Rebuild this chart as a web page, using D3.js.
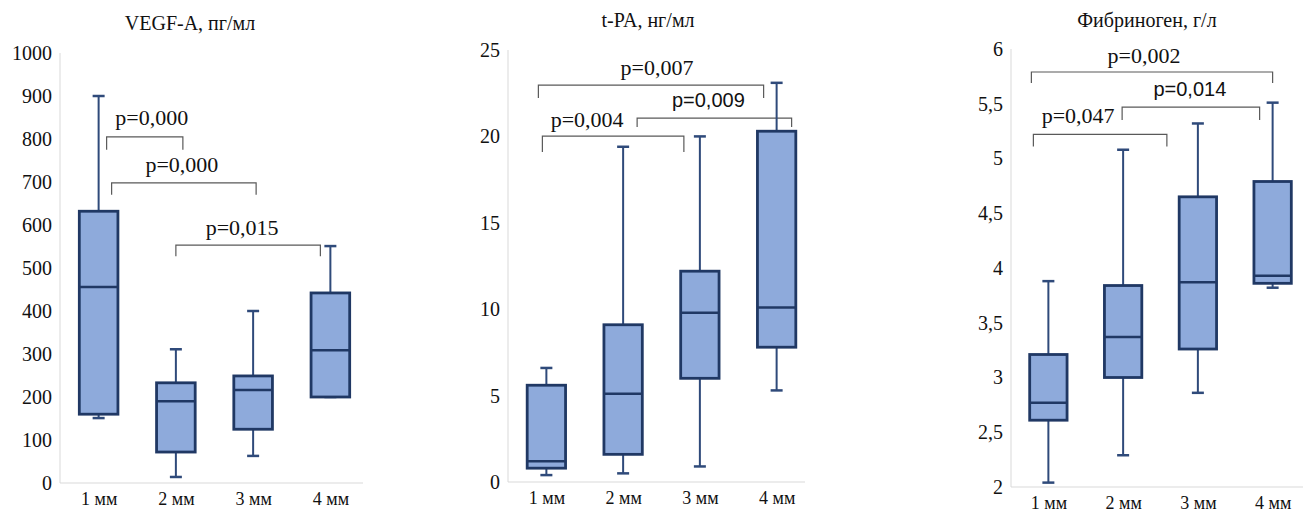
<!DOCTYPE html>
<html>
<head>
<meta charset="utf-8">
<script src="https://cdn.jsdelivr.net/npm/d3@7"></script>
<style>
  body { margin: 0; background: #fff; }
  svg { display: block; }
</style>
</head>
<body>
<div id="chart"></div>
<script>
// groups on the x axis
const categories = ['1 мм', '2 мм', '3 мм', '4 мм'];

// VEGF-A, pg/ml
const vegfMin = [151, 14, 63, 200];
const vegfQ1 = [160, 72, 125, 200];
const vegfMedian = [456, 190, 216, 309];
const vegfQ3 = [632, 233, 249, 442];
const vegfMax = [900, 311, 400, 551];
const vegfTicks = [0, 100, 200, 300, 400, 500, 600, 700, 800, 900, 1000];
const vegfPairs = [[0, 1], [0, 2], [1, 3]];
const vegfP = ['p=0,000', 'p=0,000', 'p=0,015'];

// t-PA, ng/ml
const tpaMin = [0.4, 0.5, 0.9, 5.3];
const tpaQ1 = [0.8, 1.6, 6.0, 7.8];
const tpaMedian = [1.2, 5.1, 9.8, 10.1];
const tpaQ3 = [5.6, 9.1, 12.2, 20.3];
const tpaMax = [6.6, 19.4, 20.0, 23.1];
const tpaTicks = [0, 5, 10, 15, 20, 25];
const tpaPairs = [[0, 2], [1, 3], [0, 3]];
const tpaP = ['p=0,004', 'p=0,009', 'p=0,007'];

// fibrinogen, g/l
const fibMin = [2.04, 2.29, 2.86, 3.82];
const fibQ1 = [2.61, 3.0, 3.26, 3.86];
const fibMedian = [2.77, 3.37, 3.87, 3.93];
const fibQ3 = [3.21, 3.84, 4.65, 4.79];
const fibMax = [3.88, 5.08, 5.32, 5.51];
const fibTicks = [2, 2.5, 3, 3.5, 4, 4.5, 5, 5.5, 6];
const fibPairs = [[0, 2], [1, 3], [0, 3]];
const fibP = ['p=0,047', 'p=0,014', 'p=0,002'];

const SERIF = '"Liberation Serif", "Times New Roman", serif';
const SANS = '"Liberation Sans", Arial, sans-serif';

class BoxPlot {
    constructor(_config, _data) {
        this.config = _config;
        this.data = _data;
        this.initVis();
    }

    initVis() {
        let vis = this;
        let c = vis.config;

        vis.chart = c.svg.append('g');

        vis.xScale = d3.scalePoint()
            .domain(categories)
            .range(c.xRange)
            .padding(0.5);

        vis.yScale = d3.scaleLinear()
            .domain(c.yDomain)
            .range(c.yRange);

        vis.boxWidth = vis.xScale.step() * 0.5;

        // light grey axis lines
        vis.chart.append('line')
            .attr('x1', c.xRange[0]).attr('x2', c.xRange[0])
            .attr('y1', c.yRange[1]).attr('y2', c.yRange[0])
            .attr('stroke', '#d9d9d9');
        vis.chart.append('line')
            .attr('x1', c.xRange[0]).attr('x2', c.axisEnd)
            .attr('y1', c.yRange[0]).attr('y2', c.yRange[0])
            .attr('stroke', '#d9d9d9');

        vis.yAxis = d3.axisLeft(vis.yScale)
            .tickValues(c.ticks)
            .tickSize(0)
            .tickPadding(8)
            .tickFormat(d => String(d).replace('.', ','));

        vis.xAxis = d3.axisBottom(vis.xScale)
            .tickSize(0)
            .tickPadding(9);

        vis.yAxisG = vis.chart.append('g')
            .attr('transform', `translate(${c.xRange[0]},0)`)
            .call(vis.yAxis);

        vis.xAxisG = vis.chart.append('g')
            .attr('transform', `translate(0,${c.yRange[0]})`)
            .call(vis.xAxis);

        vis.yAxisG.select('.domain').remove();
        vis.xAxisG.select('.domain').remove();
        vis.yAxisG.selectAll('text')
            .attr('font-family', SERIF).attr('font-size', 20).attr('fill', '#111');
        vis.xAxisG.selectAll('text')
            .attr('font-family', SERIF).attr('font-size', 18).attr('fill', '#111');

        vis.chart.append('text')
            .attr('x', c.titleX)
            .attr('y', c.titleY)
            .attr('text-anchor', 'middle')
            .attr('font-family', SERIF)
            .attr('font-size', 20)
            .attr('fill', '#111')
            .text(c.title);

        vis.renderVis();
    }

    renderVis() {
        let vis = this;
        let c = vis.config;
        const x = vis.xScale, y = vis.yScale, w = vis.boxWidth;
        const cap = 12;

        // significance brackets
        const brackets = vis.chart.selectAll('.bracket')
            .data(vis.data.pairs.map((p, i) => ({pair: p, label: vis.data.pValues[i], lay: c.brackets[i]})))
            .enter().append('g')
            .attr('class', 'bracket');

        brackets.append('path')
            .attr('fill', 'none')
            .attr('stroke', '#595959')
            .attr('stroke-width', 1.2)
            .attr('d', d => {
                const x1 = x(categories[d.pair[0]]) + d.lay.dx[0];
                const x2 = x(categories[d.pair[1]]) + d.lay.dx[1];
                const y0 = y(d.lay.level);
                return `M${x1},${y0 + d.lay.tick}V${y0}H${x2}V${y0 + d.lay.tick}`;
            });

        brackets.append('text')
            .attr('x', d => (x(categories[d.pair[0]]) + d.lay.dx[0] + x(categories[d.pair[1]]) + d.lay.dx[1]) / 2 + d.lay.textDx)
            .attr('y', d => y(d.lay.level) - d.lay.gap)
            .attr('text-anchor', 'middle')
            .attr('font-family', d => d.lay.sans ? SANS : SERIF)
            .attr('font-size', d => d.lay.sans ? 20 : 22)
            .attr('fill', '#111')
            .text(d => d.label);

        const rows = categories.map((cat, i) => ({
            cat: cat,
            min: vis.data.min[i], q1: vis.data.q1[i], med: vis.data.median[i],
            q3: vis.data.q3[i], max: vis.data.max[i]
        }));

        const boxes = vis.chart.selectAll('.box')
            .data(rows)
            .enter().append('g')
            .attr('class', 'box');

        // whiskers
        boxes.append('line')
            .attr('x1', d => x(d.cat)).attr('x2', d => x(d.cat))
            .attr('y1', d => y(d.max)).attr('y2', d => y(d.min))
            .attr('stroke', '#2f4a7a').attr('stroke-width', 2);
        boxes.append('line')
            .attr('x1', d => x(d.cat) - cap / 2).attr('x2', d => x(d.cat) + cap / 2)
            .attr('y1', d => y(d.max)).attr('y2', d => y(d.max))
            .attr('stroke', '#2f4a7a').attr('stroke-width', 2.5);
        boxes.append('line')
            .attr('x1', d => x(d.cat) - cap / 2).attr('x2', d => x(d.cat) + cap / 2)
            .attr('y1', d => y(d.min)).attr('y2', d => y(d.min))
            .attr('stroke', '#2f4a7a').attr('stroke-width', 2.5);

        boxes.append('rect')
            .attr('x', d => x(d.cat) - w / 2)
            .attr('width', w)
            .attr('y', d => y(d.q3))
            .attr('height', d => y(d.q1) - y(d.q3))
            .attr('fill', '#8eaadb')
            .attr('stroke', '#203864')
            .attr('stroke-width', 2.8);

        boxes.append('line')
            .attr('x1', d => x(d.cat) - w / 2).attr('x2', d => x(d.cat) + w / 2)
            .attr('y1', d => y(d.med)).attr('y2', d => y(d.med))
            .attr('stroke', '#203864').attr('stroke-width', 2.5);
    }
}

const svg = d3.select('#chart').append('svg')
    .attr('width', 1303)
    .attr('height', 513);

new BoxPlot({
    svg: svg, title: 'VEGF-A, пг/мл', titleX: 190, titleY: 30,
    xRange: [60, 369], axisEnd: 363, yRange: [483, 53], yDomain: [0, 1000], ticks: vegfTicks,
    brackets: [
        {level: 805, tick: 13, dx: [8, 7], textDx: 7, gap: 12},
        {level: 698, tick: 12, dx: [13, 3], textDx: -2, gap: 11},
        {level: 553, tick: 11, dx: [0, -10], textDx: -6, gap: 10}
    ]
}, {min: vegfMin, q1: vegfQ1, median: vegfMedian, q3: vegfQ3, max: vegfMax, pairs: vegfPairs, pValues: vegfP});

new BoxPlot({
    svg: svg, title: 't-PA, нг/мл', titleX: 648, titleY: 27,
    xRange: [508, 815], axisEnd: 805, yRange: [482, 50], yDomain: [0, 25], ticks: tpaTicks,
    brackets: [
        {level: 20.02, tick: 16, dx: [-4, -16], textDx: -26, gap: 9},
        {level: 21.06, tick: 9, dx: [14, 15], textDx: -6, gap: 11, sans: true},
        {level: 22.97, tick: 13, dx: [-8, -13], textDx: 6, gap: 10}
    ]
}, {min: tpaMin, q1: tpaQ1, median: tpaMedian, q3: tpaQ3, max: tpaMax, pairs: tpaPairs, pValues: tpaP});

new BoxPlot({
    svg: svg, title: 'Фибриноген, г/л', titleX: 1147, titleY: 27,
    xRange: [1011, 1310], axisEnd: 1303, yRange: [487, 49], yDomain: [2, 6], ticks: fibTicks,
    brackets: [
        {level: 5.22, tick: 12, dx: [-15, -31], textDx: -22, gap: 11},
        {level: 5.47, tick: 13, dx: [-1, -13], textDx: -1, gap: 11, sans: true},
        {level: 5.79, tick: 11, dx: [-17, 0], textDx: -8, gap: 9}
    ]
}, {min: fibMin, q1: fibQ1, median: fibMedian, q3: fibQ3, max: fibMax, pairs: fibPairs, pValues: fibP});
</script>
</body>
</html>
